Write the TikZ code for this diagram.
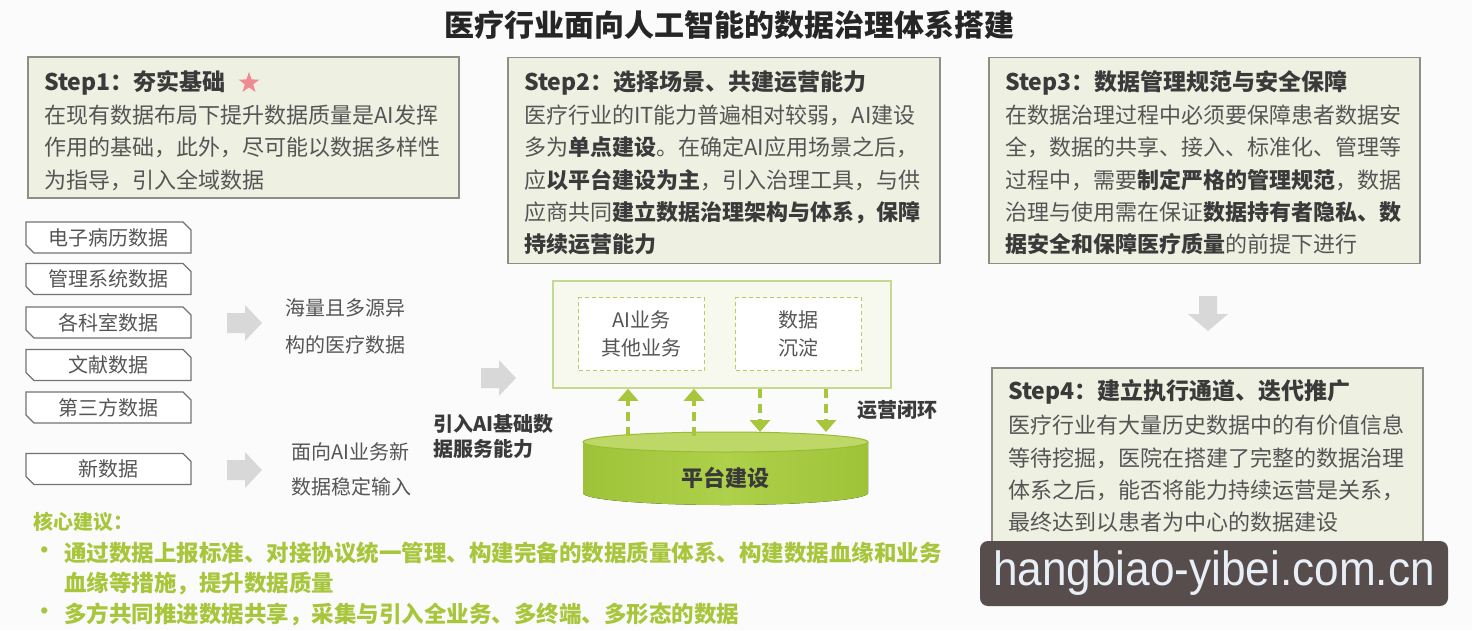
\documentclass[tikz,border=0pt]{standalone}
\usepackage{fontspec}
\setmainfont{Noto Sans CJK SC}
\newfontfamily\wmfont{Liberation Sans}
\usetikzlibrary{shapes.misc,shapes.geometric,arrows.meta,calc}
\definecolor{boxfill}{HTML}{EEF0E2}
\definecolor{boxline}{HTML}{8E8E86}
\definecolor{txt}{HTML}{555555}
\definecolor{txtb}{HTML}{3A3A3A}
\definecolor{lg}{HTML}{A8C63C}
\definecolor{platfill}{HTML}{F7F9EE}
\definecolor{platline}{HTML}{C5D98F}
\definecolor{garrow}{HTML}{D8D8D8}
\definecolor{starpink}{HTML}{EE8A92}
\definecolor{wm}{HTML}{574D4D}
\definecolor{wmtext}{HTML}{E8EFF6}
\definecolor{bg}{HTML}{FAFBFA}
\definecolor{cylL}{HTML}{9EC338}
\definecolor{cylM}{HTML}{AED04A}
\definecolor{cylTop}{HTML}{BDD866}
\definecolor{cylRim}{HTML}{98BC36}
\tikzset{
  stepbox/.style={draw=boxline, fill=boxfill, line width=1.3, inner sep=0},
  steptitle/.style={anchor=west, inner sep=0, font=\fontsize{23}{28}\selectfont\bfseries, text=txtb},
  stepbody/.style={anchor=north west, inner sep=0, align=left, font=\fontsize{22}{32.2}\selectfont, text=txt},
  databox/.style={rectangle, minimum width=165, minimum height=31, inner sep=0,
    font=\fontsize{20}{24}\selectfont, text=txt},
  dboxline/.style={draw=black!55, fill=white, line width=1.1},
  plaintext/.style={anchor=north west, inner sep=0, align=left, font=\fontsize{20}{24}\selectfont, text=txt},
  innerbox/.style={draw=lg!85, dash pattern=on 4pt off 3pt, fill=white, line width=1.2, minimum width=126, minimum height=73,
    inner sep=0, align=center, font=\fontsize{20}{28}\selectfont, text=txt},
  dasharr/.style={draw=lg, line width=3.2, dash pattern=on 9pt off 6pt, -{Triangle[width=20pt,length=12pt]}},
  greentext/.style={inner sep=0, text=lg, font=\fontsize{22.5}{30.5}\selectfont\bfseries, align=left}
}
\newcommand\garrowR[2]{\fill[garrow] (#1,#2) ++(0,-10) -- ++(18,0) -- ++(0,-8) -- ++(17,18) -- ++(-17,18) -- ++(0,-8) -- ++(-18,0) -- cycle;}
\newcommand\dbox[3]{%
  \coordinate (#1c) at (#2);
  \filldraw[dboxline] ($(#1c)+(-82.5,-15.5)$) -- ($(#1c)+(74.5,-15.5)$) -- ($(#1c)+(82.5,-7.5)$) -- ($(#1c)+(82.5,15.5)$)
     -- ($(#1c)+(-74.5,15.5)$) -- ($(#1c)+(-82.5,7.5)$) -- cycle;
  \node[databox] (#1) at (#1c) {#3};}
\begin{document}
\begin{tikzpicture}[x=1pt,y=-1pt]
\useasboundingbox (0,0) rectangle (1472,630);
\fill[bg] (0,0) rectangle (1472,630);

% title
\node[inner sep=0, font=\fontsize{30}{34}\selectfont\bfseries, text=black!85] (title) at (729.5,25) {医疗行业面向人工智能的数据治理体系搭建};

% Step boxes
\node[stepbox, minimum width=431, minimum height=141] (s1) at (243.5,127.5) {};
\node[stepbox, minimum width=432, minimum height=206] (s2) at (724,160.5) {};
\node[stepbox, minimum width=431, minimum height=206] (s3) at (1204.5,160.5) {};
\node[stepbox, minimum width=431, minimum height=208] (s4) at (1207.5,472) {};

\node[steptitle] (t1) at (44,83) {Step1：夯实基础};
\node[star, star points=5, star point ratio=2.5, fill=starpink, minimum size=22, inner sep=0] (star) at (249,83) {};
\node[stepbody] (b1) at (44,105) {在现有数据布局下提升数据质量是AI发挥\\作用的基础，此外，尽可能以数据多样性\\为指导，引入全域数据};

\node[steptitle] (t2) at (524,83) {Step2：选择场景、共建运营能力};
\node[stepbody] (b2) at (524,105) {医疗行业的IT能力普遍相对较弱，AI建设\\多为{\bfseries\color{txtb}单点建设}。在确定AI应用场景之后，\\应{\bfseries\color{txtb}以平台建设为主}，引入治理工具，与供\\应商共同{\bfseries\color{txtb}建立数据治理架构与体系，保障}\\{\bfseries\color{txtb}持续运营能力}};

\node[steptitle] (t3) at (1005,83) {Step3：数据管理规范与安全保障};
\node[stepbody] (b3) at (1005,105) {在数据治理过程中必须要保障患者数据安\\全，数据的共享、接入、标准化、管理等\\过程中，需要{\bfseries\color{txtb}制定严格的管理规范}，数据\\治理与使用需在保证{\bfseries\color{txtb}数据持有者隐私、数}\\{\bfseries\color{txtb}据安全和保障医疗质量}的前提下进行};

\node[steptitle] (t4) at (1008,392) {Step4：建立执行通道、迭代推广};
\node[stepbody] (b4) at (1008,415) {医疗行业有大量历史数据中的有价值信息\\等待挖掘，医院在搭建了完整的数据治理\\体系之后，能否将能力持续运营是关系，\\最终达到以患者为中心的数据建设};

% down arrow between step3 and step4
\fill[garrow] (1199,296) -- (1217,296) -- (1217,314) -- (1228,314) -- (1208,331) -- (1188,314) -- (1199,314) -- cycle;

% data boxes
\dbox{d1}{108.5,237.5}{电子病历数据}
\dbox{d2}{108.5,279}{管理系统数据}
\dbox{d3}{108.5,322.5}{各科室数据}
\dbox{d4}{108.5,365}{文献数据}
\dbox{d5}{108.5,407.5}{第三方数据}
\dbox{d6}{108.5,469}{新数据}

\garrowR{227}{323}
\garrowR{227}{470}
\garrowR{481}{378}

\node[plaintext, font=\fontsize{20}{37}\selectfont] (m1) at (285,298) {海量且多源异\\构的医疗数据};
\node[plaintext, font=\fontsize{20}{35}\selectfont] (m2) at (291,442) {面向AI业务新\\数据稳定输入};
\node[plaintext, font=\fontsize{20}{25}\selectfont\bfseries, text=txtb] (m3) at (433,414) {引入AI基础数\\据服务能力};

% platform
\node[draw=platline, fill=platfill, line width=1.5, minimum width=338, minimum height=107, inner sep=0] (plat) at (722,334.5) {};
\node[innerbox] (biz) at (641.5,334) {AI业务\\其他业务};
\node[innerbox] (dat) at (798.5,334) {数据\\沉淀};

% cylinder
\fill[left color=cylL, right color=cylL, middle color=cylM] (583,442) -- (583,493) arc[start angle=180, end angle=0, x radius=142.5, y radius=12] -- (868,442) -- cycle;
\filldraw[fill=cylTop, draw=cylRim, line width=1] (725.5,442) ellipse [x radius=142.5, y radius=10];
\node[inner sep=0, font=\fontsize{22}{26}\selectfont\bfseries, text=txtb] (cyl) at (725.5,478) {平台建设};

\coordinate (u1) at (628,436);
\coordinate (u2) at (694,436);
\coordinate (v1) at (760,432);
\coordinate (v2) at (826,432);
\draw[dasharr] (u1) -- (u1 |- plat.south);
\draw[dasharr] (u2) -- (u2 |- plat.south);
\draw[dasharr] (v1 |- plat.south) -- (v1);
\draw[dasharr] (v2 |- plat.south) -- (v2);
\node[inner sep=0, font=\fontsize{20}{24}\selectfont\bfseries, text=txtb] (loop) at (897.5,410) {运营闭环};

% core suggestions
\node[greentext, anchor=west, font=\fontsize{20}{24}\selectfont\bfseries] (core) at (33,522) {核心建议：};
\node[greentext, anchor=west] (bul1) at (33,553) {•};
\node[greentext, anchor=north west] (c1) at (64,541.5) {通过数据上报标准、对接协议统一管理、构建完备的数据质量体系、构建数据血缘和业务\\血缘等措施，提升数据质量};
\node[greentext, anchor=west] (bul2) at (33,614) {•};
\node[greentext, anchor=west] (c2) at (64,614) {多方共同推进数据共享，采集与引入全业务、多终端、多形态的数据};

% watermark
\node[fill=wm, rounded corners=8, minimum width=468, minimum height=65, inner sep=0, text=wmtext, font=\wmfont\fontsize{48}{52}\selectfont] (wm) at (1214,573.5) {\scalebox{0.92}[1]{hangbiao-yibei.com.cn}};
\end{tikzpicture}
\end{document}
